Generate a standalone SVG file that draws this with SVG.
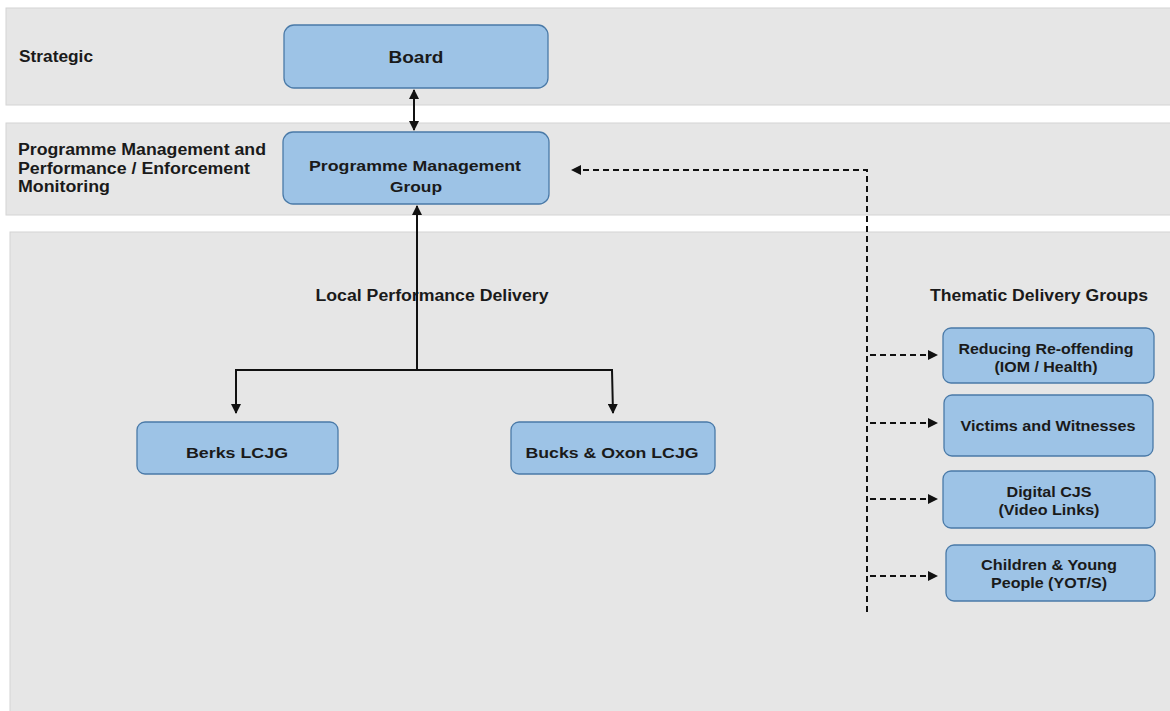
<svg xmlns="http://www.w3.org/2000/svg" width="1170" height="711" viewBox="0 0 1170 711">
<defs>
<style>
text{font-family:"Liberation Sans",Arial,sans-serif;font-weight:bold;fill:#1a1a1a}
.band{fill:#e6e6e6;stroke:#d4d4d4;stroke-width:1}
.box{fill:#9dc3e6;stroke:#4a7aa8;stroke-width:1.3}
.lbl{font-size:16px}
.bt{font-size:15px;text-anchor:middle}
.big{font-size:17px;text-anchor:middle}
.solid{fill:none;stroke:#111;stroke-width:2}
.dash{fill:none;stroke:#111;stroke-width:2;stroke-dasharray:6 4}
</style>
<marker id="ah" viewBox="0 0 10 10" refX="9" refY="5" markerWidth="5" markerHeight="5" orient="auto-start-reverse" markerUnits="strokeWidth">
<path d="M0,0 L10,5 L0,10 z" fill="#111"/>
</marker>
</defs>
<rect width="1170" height="711" fill="#ffffff"/>
<g id="bands">
<rect class="band" x="6" y="8" width="1170" height="97"/>
<rect class="band" x="6" y="123" width="1170" height="92"/>
<rect class="band" x="10" y="232" width="1170" height="490"/>
</g>
<g id="labels">
<text class="lbl" x="19" y="62" textLength="74" lengthAdjust="spacingAndGlyphs">Strategic</text>
<text class="lbl" x="18" y="155" textLength="248" lengthAdjust="spacingAndGlyphs">Programme Management and</text>
<text class="lbl" x="18" y="174" textLength="232" lengthAdjust="spacingAndGlyphs">Performance / Enforcement</text>
<text class="lbl" x="18" y="192" textLength="92" lengthAdjust="spacingAndGlyphs">Monitoring</text>
<text class="lbl" x="432" y="301" text-anchor="middle" textLength="233" lengthAdjust="spacingAndGlyphs">Local Performance Delivery</text>
<text class="lbl" x="1039" y="301" text-anchor="middle" textLength="218" lengthAdjust="spacingAndGlyphs">Thematic Delivery Groups</text>
</g>
<g id="connectors">
<line class="solid" x1="414" y1="90" x2="414" y2="130" marker-start="url(#ah)" marker-end="url(#ah)"/>
<line class="solid" x1="417" y1="370" x2="417" y2="206" marker-end="url(#ah)"/>
<polyline class="solid" points="236,370 612,370 613,413" marker-end="url(#ah)"/>
<line class="solid" x1="236" y1="369" x2="236" y2="413" marker-end="url(#ah)"/>
<polyline class="dash" points="867,612 867,170 572,170" marker-end="url(#ah)"/>
<line class="dash" x1="870" y1="355" x2="937" y2="355" marker-end="url(#ah)"/>
<line class="dash" x1="870" y1="423" x2="937" y2="423" marker-end="url(#ah)"/>
<line class="dash" x1="870" y1="499" x2="937" y2="499" marker-end="url(#ah)"/>
<line class="dash" x1="870" y1="576" x2="937" y2="576" marker-end="url(#ah)"/>
</g>
<g id="board">
<rect class="box" x="284" y="25" width="264" height="63" rx="10"/>
<text class="big" x="416" y="63" textLength="55" lengthAdjust="spacingAndGlyphs">Board</text>
</g>
<g id="pmg">
<rect class="box" x="283" y="132" width="266" height="72" rx="10"/>
<text class="bt" x="415" y="171" textLength="212" lengthAdjust="spacingAndGlyphs">Programme Management</text>
<text class="bt" x="416" y="192" textLength="52" lengthAdjust="spacingAndGlyphs">Group</text>
</g>
<g id="berks">
<rect class="box" x="137" y="422" width="201" height="52" rx="8"/>
<text class="bt" x="237" y="458" textLength="102" lengthAdjust="spacingAndGlyphs">Berks LCJG</text>
</g>
<g id="bucks">
<rect class="box" x="511" y="422" width="204" height="52" rx="8"/>
<text class="bt" x="612" y="458" textLength="173" lengthAdjust="spacingAndGlyphs">Bucks &amp; Oxon LCJG</text>
</g>
<g id="reducing">
<rect class="box" x="943" y="328" width="211" height="55" rx="8"/>
<text class="bt" x="1046" y="354" textLength="175" lengthAdjust="spacingAndGlyphs">Reducing Re-offending</text>
<text class="bt" x="1046" y="372" textLength="103" lengthAdjust="spacingAndGlyphs">(IOM / Health)</text>
</g>
<g id="victims">
<rect class="box" x="944" y="395" width="209" height="61" rx="8"/>
<text class="bt" x="1048" y="431" textLength="175" lengthAdjust="spacingAndGlyphs">Victims and Witnesses</text>
</g>
<g id="digital">
<rect class="box" x="943" y="471" width="212" height="57" rx="8"/>
<text class="bt" x="1049" y="497" textLength="85" lengthAdjust="spacingAndGlyphs">Digital CJS</text>
<text class="bt" x="1049" y="515" textLength="101" lengthAdjust="spacingAndGlyphs">(Video Links)</text>
</g>
<g id="children">
<rect class="box" x="946" y="545" width="209" height="56" rx="8"/>
<text class="bt" x="1049" y="570" textLength="136" lengthAdjust="spacingAndGlyphs">Children &amp; Young</text>
<text class="bt" x="1049" y="588" textLength="116" lengthAdjust="spacingAndGlyphs">People (YOT/S)</text>
</g>
</svg>
